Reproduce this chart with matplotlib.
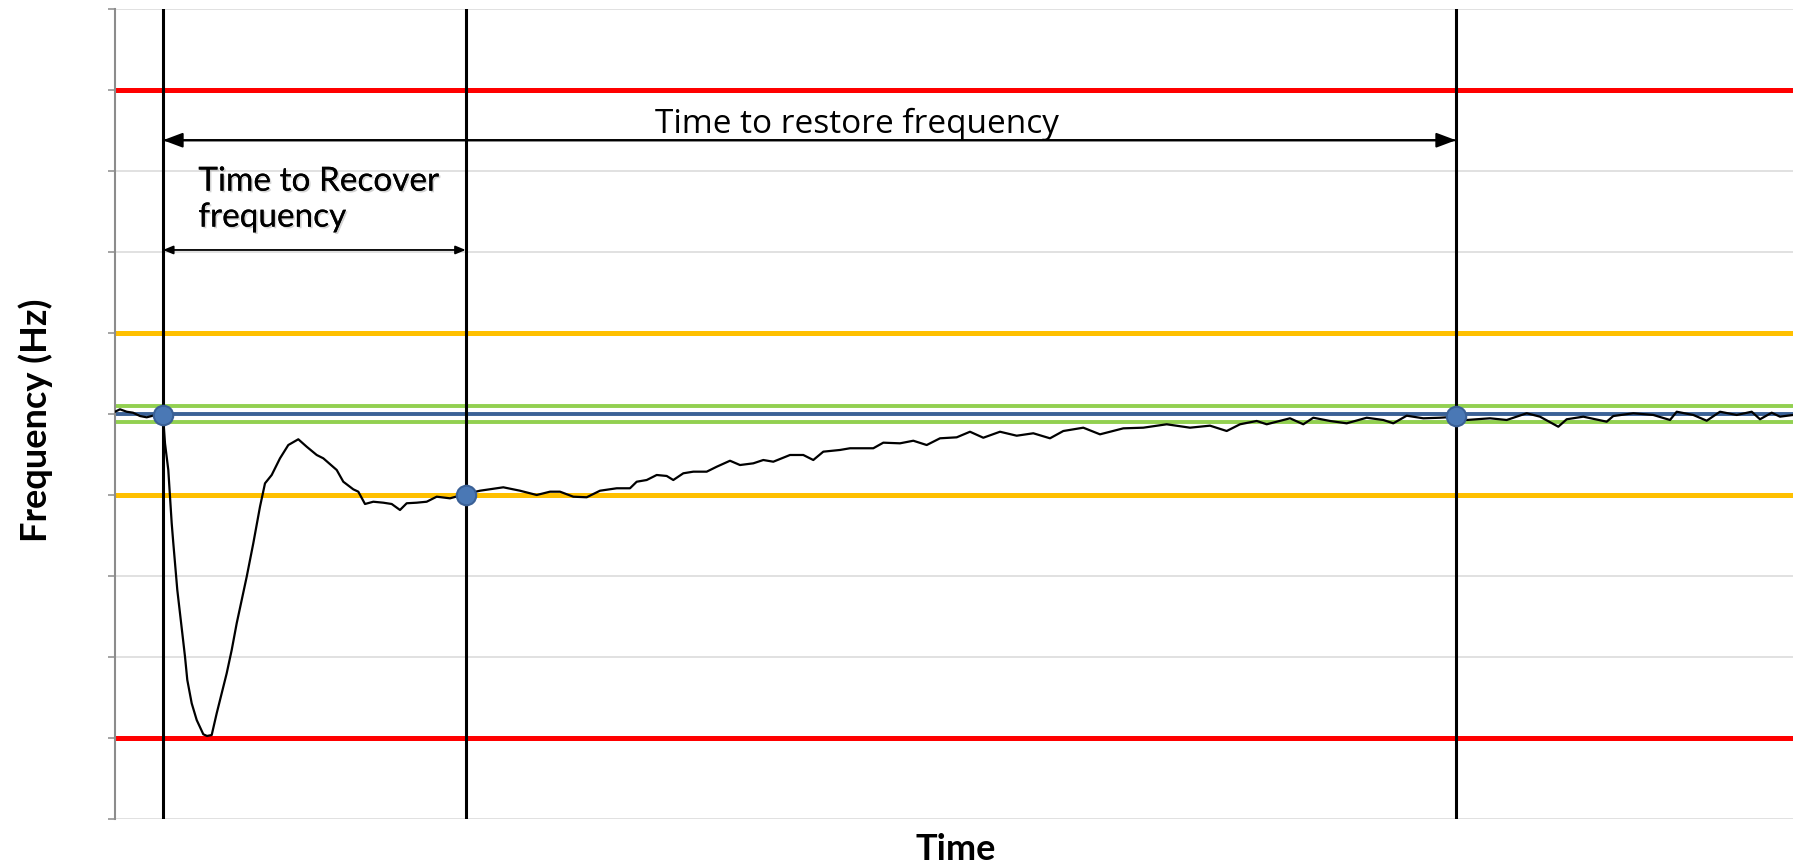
import matplotlib
matplotlib.use("Agg")
import matplotlib.pyplot as plt
import matplotlib.patheffects as pe
import numpy as np

# ---------------- data ----------------
time_s = [0, 5, 11.7, 18, 25, 31.7, 36.7, 43, 48, 50, 53.3, 55, 56.7, 58.3, 62.3, 65, 67.7, 70,
          72.3, 76.7, 81.7, 88.3, 92, 96.7, 101.7, 106.7, 111.7, 116.7, 121.7, 131.7, 138.3, 145,
          150, 156.7, 165, 173.3, 183.3, 191.7, 201.7, 208.3, 221.7, 228.3, 238.3, 243.3, 250,
          258.3, 268.3, 276.7, 285, 291.7, 301.7, 311.7, 321.7, 335, 350.7, 365, 388.3, 405,
          421.7, 435, 445, 458.3, 471.7, 485, 501.7, 515, 521.7, 531.7, 541.7, 551.7, 558.3,
          568.3, 578.3, 591.7, 601.7, 615, 625, 638.3, 648.3, 658.3, 675, 688.3, 698.3, 708.3,
          725, 735, 758.3, 768.3, 785, 798.3, 811.7, 825, 841.7, 855, 868.3, 885, 901.7, 918.3,
          935, 948.3, 968.3, 985, 1008.3, 1028.3, 1051.7, 1075, 1095, 1111.7, 1125, 1141.7,
          1151.7, 1175, 1188.3, 1198.3, 1215, 1231.7, 1251.7, 1268.3, 1278.3, 1291.7, 1308.3,
          1325, 1341.7, 1351.7, 1375, 1391.7, 1411.7, 1425, 1443.3, 1451.7, 1468.3, 1491.7,
          1498.3, 1518.3, 1538.3, 1555, 1561.7, 1578.3, 1591.7, 1605, 1621.7, 1636.7, 1645,
          1656.7, 1665, 1678]
freq_hz = [50.0028, 50.0058, 50.0028, 50.0016, 49.9975, 49.9959, 49.9975, 50.0000, 49.9988,
           49.9638, 49.9309, 49.8979, 49.8651, 49.8407, 49.7827, 49.7543, 49.7251, 49.7004,
           49.6716, 49.6428, 49.6222, 49.6046, 49.6025, 49.6037, 49.6305, 49.6552, 49.6799,
           49.7086, 49.7416, 49.7991, 49.8404, 49.8856, 49.9144, 49.9247, 49.9453, 49.9617,
           49.9688, 49.9596, 49.9494, 49.9453, 49.9309, 49.9164, 49.9070, 49.9041, 49.8889,
           49.8917, 49.8905, 49.8889, 49.8815, 49.8898, 49.8905, 49.8917, 49.8979, 49.8959,
           49.9012, 49.9053, 49.9095, 49.9053, 49.9000, 49.9041, 49.9041, 49.8979, 49.8972,
           49.9053, 49.9083, 49.9083, 49.9164, 49.9185, 49.9247, 49.9235, 49.9185, 49.9268,
           49.9288, 49.9288, 49.9349, 49.9423, 49.9370, 49.9391, 49.9432, 49.9411, 49.9494,
           49.9494, 49.9432, 49.9535, 49.9556, 49.9577, 49.9577, 49.9646, 49.9638, 49.9670,
           49.9617, 49.9700, 49.9712, 49.9781, 49.9707, 49.9781, 49.9732, 49.9762, 49.9700,
           49.9790, 49.9831, 49.9749, 49.9823, 49.9831, 49.9873, 49.9831, 49.9856, 49.9790,
           49.9873, 49.9914, 49.9873, 49.9947, 49.9873, 49.9954, 49.9914, 49.9885, 49.9954,
           49.9926, 49.9885, 49.9979, 49.9947, 49.9954, 49.9967, 49.9926, 49.9947, 49.9926,
           50.0009, 49.9967, 49.9843, 49.9935, 49.9967, 49.9905, 49.9975, 50.0009, 49.9988,
           49.9926, 50.0028, 49.9988, 49.9917, 50.0028, 49.9988, 50.0028, 49.9935, 50.0016,
           49.9967, 49.9988]

nominal_hz = 50.0
dead_band = [49.99, 50.01]
operating_limits = [49.9, 50.1]
statutory_limits = [49.6, 50.4]

event_times = [48, 350.7, 1341]          # disturbance, recovered, restored
event_freqs = [49.999, 49.9, 49.997]

t_range = [0, 1678]
f_range = [49.5, 50.5]

# ---------------- figure ----------------
W, H = 1798, 863
fig = plt.figure(figsize=(W / 100, H / 100), dpi=100)
ax = fig.add_axes([115 / W, 1 - 819 / H, (1793 - 115) / W, (819 - 9) / H])
ax.set_xlim(*t_range)
ax.set_ylim(*f_range)

ax.set_yticks(np.round(np.arange(f_range[0], f_range[1] + 0.001, 0.1), 2))
ax.set_yticklabels([])
ax.set_xticks([])
ax.grid(axis="y", color="#d9d9d9", lw=1.1, zorder=0)
ax.tick_params(axis="y", length=5, width=1.1, color="#8c8c8c", direction="out")
for s in ["top", "right", "bottom"]:
    ax.spines[s].set_visible(False)
ax.spines["left"].set_color("#8c8c8c")
ax.spines["left"].set_linewidth(1.5)

for f in statutory_limits:
    ax.axhline(f, color="#ff0000", lw=3.6, zorder=2)
for f in operating_limits:
    ax.axhline(f, color="#ffc000", lw=3.6, zorder=2)
for f in dead_band:
    ax.axhline(f, color="#92d050", lw=2.8, zorder=2)
ax.axhline(nominal_hz, color="#3b6196", lw=2.8, zorder=2)

for t in event_times:
    ax.axvline(t, color="black", lw=2.2, zorder=3)

ax.plot(time_s, freq_hz, color="black", lw=1.6, zorder=4)
ax.plot(event_times, event_freqs, "o", ms=14, mfc="#4a78b5", mec="#3a6096",
        mew=1.5, zorder=5, clip_on=False)

# arrows
ax.annotate("", xy=(event_times[0], 50.338), xytext=(event_times[2], 50.338),
            arrowprops=dict(arrowstyle="-|>,head_length=1.2,head_width=0.45",
                            color="black", lw=1.5, shrinkA=0, shrinkB=0), zorder=6)
ax.annotate("", xy=(event_times[2], 50.338), xytext=(event_times[0], 50.338),
            arrowprops=dict(arrowstyle="-|>,head_length=1.2,head_width=0.45",
                            color="black", lw=1.5, shrinkA=0, shrinkB=0), zorder=6)
ax.annotate("", xy=(event_times[0], 50.2025), xytext=(event_times[1], 50.2025),
            arrowprops=dict(arrowstyle="<|-|>,head_length=0.6,head_width=0.25",
                            color="black", lw=1.3, shrinkA=0, shrinkB=0), zorder=6)

ax.text(540, 50.3473, "Time to restore frequency", fontsize=24, family="Open Sans",
        ha="left", va="baseline", zorder=7)
shadow = [pe.withSimplePatchShadow(offset=(1.2, -1.2), shadow_rgbFace="#aaaaaa", alpha=0.5),
          pe.Normal()]
ax.text(83.3, 50.2757, "Time to Recover", fontsize=24, family="Lato",
        ha="left", va="baseline", zorder=7, path_effects=shadow)
ax.text(83.3, 50.2313, "frequency", fontsize=24, family="Lato",
        ha="left", va="baseline", zorder=7, path_effects=shadow)

fig.text(36 / W, 1 - 420 / H, "Frequency (Hz)", rotation=90, fontsize=26,
         family="Lato", fontweight="bold", ha="center", va="center")
fig.text(956 / W, 1 - 860 / H, "Time", fontsize=26, family="Lato",
         fontweight="bold", ha="center", va="baseline")

fig.savefig("out.png", dpi=100)
